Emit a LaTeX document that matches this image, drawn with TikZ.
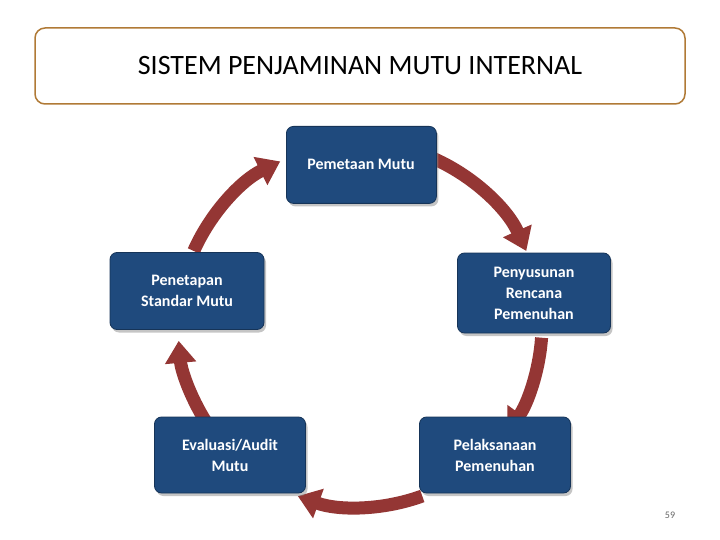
\documentclass[tikz,border=0pt]{standalone}
\usepackage{fontspec}
\setmainfont{Carlito}
\usetikzlibrary{arrows.meta,shadows,calc}
\definecolor{bx}{HTML}{1F4A7D}
\definecolor{ar}{HTML}{943634}
\definecolor{br}{HTML}{B07A36}
\tikzset{
 boxfont/.style={font=\bfseries\fontsize{16}{21}\selectfont},
 stepbox/.style={draw=bx!70!black,fill=bx,rounded corners=7pt,line width=0.8pt,text=white,boxfont,align=center,drop shadow={shadow xshift=2pt,shadow yshift=-3pt,fill=black!45},inner sep=2pt},
 cyc/.style={draw=ar,line width=13pt,-{Triangle[length=22pt,width=30pt]}}
}
\begin{document}
\begin{tikzpicture}[x=1pt,y=1pt]
\useasboundingbox (0,0) rectangle (720,-540);
\node[draw=br,line width=1.5pt,rounded corners=10pt,minimum width=650pt,minimum height=76pt,font=\fontsize{28}{32}\selectfont] (title) at (360,-66) {SISTEM PENJAMINAN MUTU INTERNAL};
\coordinate (C) at (360,-325);
\draw[cyc] ($(C)+(66:182)$) arc (66:24:182);
\draw[cyc] ($(C)+(-4:182)$) arc (-4:-36:182);
\draw[cyc] ($(C)+(-70:182)$) arc (-70:-110:182);
\draw[cyc] ($(C)+(-146:182)$) arc (-146:-175:182);
\draw[cyc] ($(C)+(156:182)$) arc (156:116:182);
\node[stepbox,minimum width=150pt,minimum height=77pt,anchor=north west] (a) at (286,-126) {};
\node[boxfont,text=white] (at) at (361,-164) {Pemetaan Mutu};
\node[stepbox,minimum width=153pt,minimum height=80pt] (b) at (534,-293) {Penyusunan\\Rencana\\Pemenuhan};
\node[stepbox,minimum width=151pt,minimum height=76pt] (c) at (495,-455) {Pelaksanaan\\Pemenuhan};
\node[stepbox,minimum width=151pt,minimum height=76pt] (d) at (230,-455) {Evaluasi/Audit\\Mutu};
\node[stepbox,minimum width=154pt,minimum height=77pt] (e) at (187,-291) {Penetapan\\Standar Mutu};
\node[font=\fontsize{10}{11}\selectfont,text=black!60] (pg) at (670,-515) {59};
\end{tikzpicture}
\end{document}
